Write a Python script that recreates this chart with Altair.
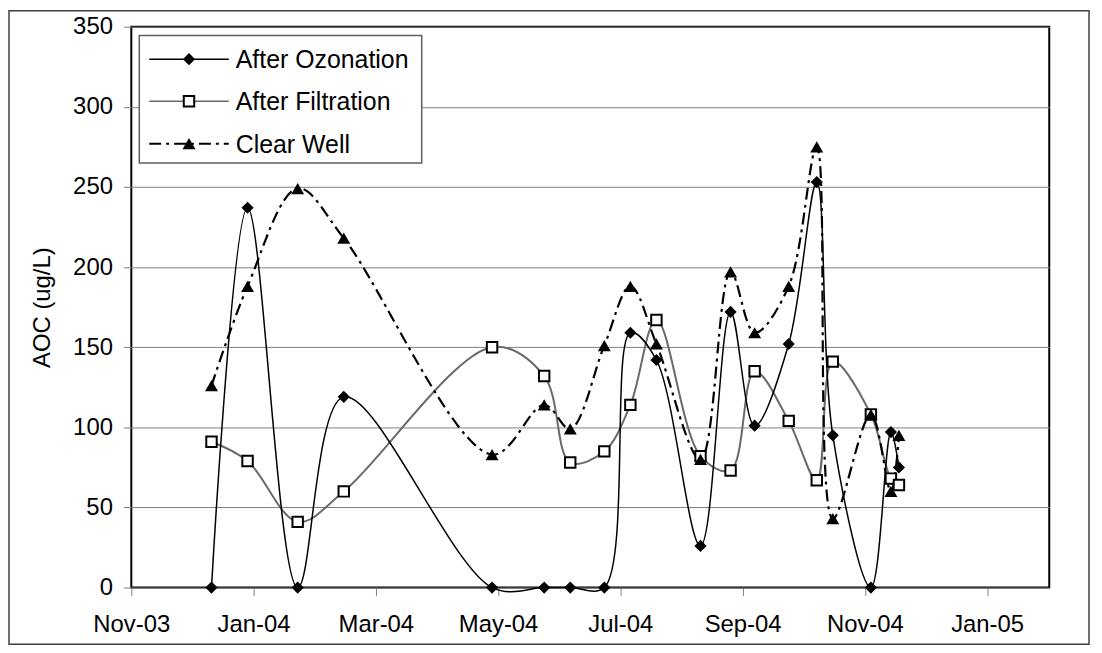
import altair as alt
import pandas as pd

# ---- data ----
dates = ["2003-12-11", "2003-12-29", "2004-01-23", "2004-02-15", "2004-04-29",
         "2004-05-25", "2004-06-07", "2004-06-24", "2004-07-07", "2004-07-20",
         "2004-08-11", "2004-08-26", "2004-09-07", "2004-09-24", "2004-10-08",
         "2004-10-16", "2004-11-04", "2004-11-14", "2004-11-18"]
ozonation = [0, 237, 0, 119, 0, 0, 0, 0, 159, 142, 26, 172, 101, 152, 253, 95, 0, 97, 75]
filtration = [91, 79, 41, 60, 150, 132, 78, 85, 114, 167, 82, 73, 135, 104, 67, 141, 108, 68, 64]
clear_well = [126, 188, 249, 218, 83, 114, 99, 151, 188, 152, 80, 197, 159, 188, 275, 43, 108, 60, 95]
series_names = ["After Ozonation", "After Filtration", "Clear Well"]
tick_labels = ["Nov-03", "Jan-04", "Mar-04", "May-04", "Jul-04", "Sep-04", "Nov-04", "Jan-05"]
axis_start = "2003-11-01"
tick_step_days = 61
x_max_days = 458
y_ticks = [0, 50, 100, 150, 200, 250, 300, 350]

FONT = "Liberation Sans"
FS = 24
LEG_FS = 25

base_date = pd.Timestamp(axis_start)
days = [(pd.Timestamp(d) - base_date).days for d in dates]
tick_values = [i * tick_step_days for i in range(len(tick_labels))]
label_expr = "[" + ",".join("'%s'" % t for t in tick_labels) + "][round(datum.value/%d)]" % tick_step_days

x_enc = alt.X("day:Q",
              scale=alt.Scale(domain=[0, x_max_days], nice=False, zero=False),
              axis=alt.Axis(values=tick_values, labelExpr=label_expr, title=None,
                            grid=False, labelPadding=17, labelFlush=False,
                            labelOverlap=False))
y_enc = alt.Y("value:Q",
              scale=alt.Scale(domain=[0, 350], nice=False),
              axis=alt.Axis(values=y_ticks, title="AOC (ug/L)", grid=True,
                            labelPadding=11, titleX=-89, titleY=282,
                            titleAngle=270, titleAlign="center",
                            titleBaseline="middle"))


def frame(vals, name):
    return pd.DataFrame({"day": days, "value": vals, "series": name})


df_o = frame(ozonation, series_names[0])
df_f = frame(filtration, series_names[1])
df_c = frame(clear_well, series_names[2])

INTERP = dict(interpolate="catmull-rom", tension=0.5)

line_o = alt.Chart(df_o).mark_line(color="black", strokeWidth=1.5, clip=False, **INTERP).encode(
    x=x_enc, y=y_enc)
line_f = alt.Chart(df_f).mark_line(color="#6a6a6a", strokeWidth=2, clip=False, **INTERP).encode(
    x=x_enc, y=y_enc)
line_c = alt.Chart(df_c).mark_line(color="black", strokeWidth=2.2, strokeDash=[12, 5, 3, 5],
                                   clip=False, **INTERP).encode(x=x_enc, y=y_enc)

pt_o = alt.Chart(df_o).mark_point(shape="diamond", filled=True, color="black", size=150,
                                  opacity=1).encode(x=x_enc, y=y_enc)
pt_f = alt.Chart(df_f).mark_point(shape="square", filled=True, fill="white", stroke="black",
                                  strokeWidth=2, size=110, opacity=1).encode(x=x_enc, y=y_enc)
pt_c = alt.Chart(df_c).mark_point(shape="triangle-up", filled=True, color="black", size=170,
                                  opacity=1).encode(x=x_enc, y=y_enc)

# ---- legend (drawn by hand to show line + marker samples) ----
one = pd.DataFrame({"k": [0]})
leg_box = alt.Chart(one).mark_rect(fill="white", stroke="#606060", strokeWidth=1.5).encode(
    x=alt.value(8), x2=alt.value(292), y=alt.value(9), y2=alt.value(137))
row_y = [32.7, 75, 117.7]
legend_layers = [leg_box]
line_styles = [
    dict(color="black", strokeWidth=1.5),
    dict(color="#6a6a6a", strokeWidth=1.5),
    dict(color="black", strokeWidth=2.2, strokeDash=[12, 5, 3, 5]),
]
marker_styles = [
    dict(shape="diamond", filled=True, color="black", size=150, opacity=1),
    dict(shape="square", filled=True, fill="white", stroke="black", strokeWidth=2, size=110, opacity=1),
    dict(shape="triangle-up", filled=True, color="black", size=170, opacity=1),
]
for i, name in enumerate(series_names):
    legend_layers.append(alt.Chart(one).mark_rule(**line_styles[i]).encode(
        x=alt.value(18), x2=alt.value(98), y=alt.value(row_y[i])))
    legend_layers.append(alt.Chart(one).mark_point(**marker_styles[i]).encode(
        x=alt.value(58), y=alt.value(row_y[i])))
    legend_layers.append(alt.Chart(one).mark_text(align="left", baseline="middle", font=FONT,
                                                  fontSize=LEG_FS, color="black").encode(
        x=alt.value(105), y=alt.value(row_y[i] + 1), text=alt.value(name)))

outer = alt.Chart(one).mark_rect(fill=None, stroke="#404040", strokeWidth=1.5, clip=False).encode(
    x=alt.value(-123), x2=alt.value(963), y=alt.value(-16), y2=alt.value(621))

chart = alt.layer(outer, line_f, line_c, line_o, pt_f, pt_c, pt_o, *legend_layers).properties(
    width=923, height=564,
    autosize=alt.AutoSizeParams(type="none"),
    padding={"left": 124, "top": 17, "right": 45, "bottom": 60},
    background="white",
).configure_view(stroke="black", strokeWidth=2).configure_axis(
    labelFont=FONT, labelFontSize=FS, labelColor="black",
    titleFont=FONT, titleFontSize=FS, titleFontWeight="normal", titleColor="black",
    tickColor="#808080", tickSize=8, tickWidth=1, domain=False,
    gridColor="#808080", gridWidth=1, gridOpacity=1,
)

chart.save("out.html", embed_options={"renderer": "svg", "actions": False})
